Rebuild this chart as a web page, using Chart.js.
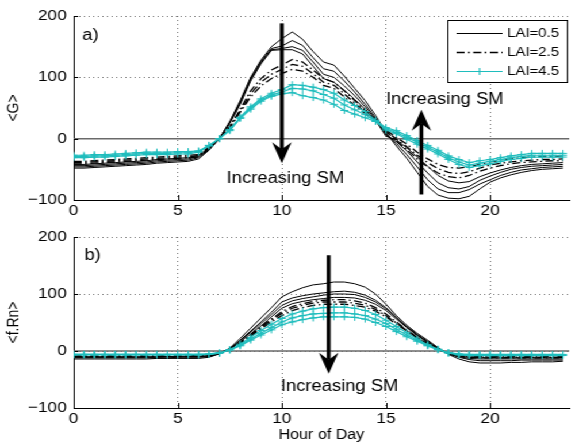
<!DOCTYPE html>
<html>
<head>
<meta charset="utf-8">
<script src="https://cdn.jsdelivr.net/npm/chart.js@4.4.1/dist/chart.umd.min.js"></script>
<style>
  body { margin: 0; background: #fff; }
  #wrap { position: absolute; left: 0; top: 0; width: 500px; height: 444px; transform: scaleX(1.15); transform-origin: 0 0; }
  canvas { position: absolute; left: 0; }
</style>
</head>
<body>
<div id="wrap">
  <canvas id="topChart" width="500" height="222" style="top:0"></canvas>
  <canvas id="bottomChart" width="500" height="222" style="top:222px"></canvas>
</div>
<script>
// half-hourly time axis
const hours = [0,0.5,1,1.5,2,2.5,3,3.5,4,4.5,5,5.5,6,6.5,7,7.5,8,8.5,9,9.5,10,10.5,11,11.5,
               12,12.5,13,13.5,14,14.5,15,15.5,16,16.5,17,17.5,18,18.5,19,19.5,20,20.5,21,21.5,22,22.5,23,23.5];
const xTicks = [0, 5, 10, 15, 20];
const yTicks = [-100, 0, 100, 200];
const legendLabels = ["LAI=0.5", "LAI=2.5", "LAI=4.5"];

// panel a) <G>, one row per soil moisture level
const gLai05 = [
  [-48,-48,-47,-46,-45,-44,-43,-42,-40,-39,-38,-37, -33,-19,0,28,62,100,128,150,163,174,162,142,
   125,120,102,82,62,38,10,-12,-32,-55,-78,-92, -97,-98,-94,-82,-71,-64,-59,-55,-52,-50,-49,-48],
  [-46,-46,-45,-44,-43,-42,-41,-40,-38,-37,-36,-35, -31,-18,0,27,60,98,126,147,151,160,152,132,
   114,110,94,76,56,34,8,-8,-26,-46,-67,-82, -88,-88,-83,-74,-67,-60,-55,-51,-49,-47,-46,-45],
  [-44,-44,-43,-42,-41,-40,-39,-38,-36,-35,-34,-33, -29,-17,0,26,58,96,124,145,147,150,144,125,
   105,100,86,70,52,32,6,-5,-20,-38,-56,-72, -80,-82,-78,-68,-61,-55,-50,-47,-45,-44,-43,-42],
  [-42,-42,-41,-40,-39,-38,-37,-36,-34,-33,-32,-31, -27,-15,0,25,56,94,122,144,145,145,138,118,
   98,92,79,64,48,30,4,-2,-15,-30,-45,-60, -69,-72,-70,-62,-56,-51,-47,-44,-42,-41,-40,-39]
];
const gLai25 = [
  [-41,-41,-40,-39,-38,-37,-36,-35,-34,-33,-32,-31, -30,-16,0,20,48,78,98,112,120,129,125,112,
   98,92,78,62,46,32,12,-4,-18,-33,-46,-56, -62,-64,-60,-53,-48,-44,-41,-39,-38,-37,-36,-36],
  [-39,-39,-38,-37,-36,-35,-34,-33,-32,-31,-30,-29, -28,-15,0,19,45,73,92,105,113,121,118,106,
   92,87,73,58,43,31,13,-1,-13,-27,-39,-49, -55,-57,-54,-48,-43,-40,-38,-36,-35,-34,-34,-33],
  [-37,-37,-36,-35,-34,-33,-32,-31,-30,-29,-28,-27, -26,-14,0,18,43,68,86,98,106,113,110,100,
   87,82,68,54,41,30,14,2,-9,-22,-33,-42, -47,-48,-46,-42,-38,-35,-33,-31,-30,-29,-29,-28]
];
const gLai45 = [
  [-27,-27,-26,-26,-25,-24,-23,-22,-22,-22,-21,-21, -20,-11,0,15,35,52,65,74,80,88,87,84,
   80,74,63,54,44,30,18,13,5,-3,-11,-19, -28,-34,-39,-36,-34,-31,-28,-26,-24,-24,-24,-24],
  [-29,-29,-28,-28,-27,-26,-25,-24,-24,-24,-23,-23, -21,-11,0,14,34,50,63,71,76,82,81,78,
   72,66,55,47,39,29,16,10,2,-6,-14,-22, -31,-38,-43,-40,-37,-34,-31,-29,-27,-27,-27,-27],
  [-31,-31,-30,-30,-29,-28,-27,-26,-26,-26,-25,-25, -22,-12,0,13,33,48,61,69,73,75,70,67,
   63,56,46,40,34,28,14,8,-1,-9,-17,-25, -34,-42,-47,-44,-41,-37,-34,-32,-30,-30,-30,-30]
];

// panel b) <f.Rn>
const rLai05 = [
  [-14,-14,-14,-14,-14,-14,-14,-14,-13,-13,-13,-13, -13,-11,-5,5,22,40,58,76,95,104,111,116,
   118,121,121,118,112,100,82,62,45,31,19,6, -6,-14,-19,-21,-21,-21,-20,-20,-19,-19,-19,-18],
  [-12,-12,-12,-12,-12,-12,-12,-12,-12,-12,-11,-11, -11,-10,-5,4,19,35,51,68,86,93,97,100,
   102,104,105,103,98,89,76,59,43,29,17,5, -5,-11,-15,-17,-17,-17,-17,-16,-16,-16,-16,-16],
  [-11,-11,-11,-11,-11,-11,-11,-11,-11,-10,-10,-10, -10,-9,-4,4,18,33,48,64,80,88,92,95,
   98,100,100,99,94,86,74,58,42,28,16,4, -4,-10,-13,-14,-14,-14,-14,-14,-14,-14,-14,-14],
  [-10,-10,-10,-10,-10,-10,-10,-10,-10,-10,-9,-9, -9,-8,-4,3,16,30,44,60,75,83,87,90,
   92,94,94,93,89,82,71,56,41,27,15,4, -4,-9,-11,-12,-12,-12,-12,-12,-12,-12,-12,-12]
];
const rLai25 = [
  [-10,-10,-10,-10,-10,-10,-10,-10,-10,-10,-10,-10, -10,-9,-4,3,15,29,43,56,69,78,83,87,
   89,90,90,88,84,76,65,51,37,24,13,3, -5,-9,-11,-12,-12,-12,-12,-12,-12,-12,-12,-12],
  [-9,-9,-9,-9,-9,-9,-9,-9,-9,-9,-9,-9, -9,-8,-4,3,14,27,41,54,66,75,80,84,
   86,86,86,84,80,73,62,49,36,23,12,3, -4,-8,-10,-11,-11,-11,-11,-11,-11,-11,-11,-11],
  [-9,-9,-9,-9,-9,-9,-9,-9,-9,-9,-9,-9, -8,-8,-4,3,13,26,39,51,62,71,76,80,
   82,82,82,80,77,70,60,47,35,23,12,3, -4,-7,-9,-10,-10,-10,-10,-10,-10,-10,-10,-10]
];
const rLai45 = [
  [-7,-7,-7,-7,-7,-7,-7,-7,-7,-7,-7,-7, -7,-6,-4,2,12,24,36,47,57,65,70,74,
   76,77,77,75,71,64,54,43,32,21,11,3, -4,-7,-8,-8,-8,-8,-8,-8,-8,-8,-8,-8],
  [-6,-6,-6,-6,-6,-6,-6,-6,-6,-6,-6,-6, -6,-6,-4,2,10,21,31,41,51,58,62,65,
   66,67,67,65,62,56,48,38,28,19,10,3, -3,-6,-7,-7,-7,-7,-7,-7,-7,-7,-7,-7],
  [-6,-6,-6,-6,-6,-6,-6,-6,-6,-6,-6,-6, -6,-5,-3,2,9,19,28,37,46,51,55,58,
   60,60,60,59,56,50,43,34,25,17,9,2, -3,-5,-6,-6,-6,-6,-6,-6,-6,-6,-6,-6]
];

const CYAN = "#1fbdbd";
const FONT = "'Liberation Sans', Arial, sans-serif";
const styles = [
  { borderColor: "#000", borderWidth: 1, borderDash: [], pointRadius: 0 },
  { borderColor: "#000", borderWidth: 1.3, borderDash: [7, 3, 1.5, 3], pointRadius: 0 },
  { borderColor: CYAN, borderWidth: 1.2, borderDash: [], pointRadius: 3.5, pointStyle: "cross",
    pointBorderColor: CYAN, pointBorderWidth: 1 }
];

function makeSets(groups) {
  const sets = [];
  // later groups first so the cyan lines end up on top
  for (let g = groups.length - 1; g >= 0; g--) {
    groups[g].forEach((s) => {
      sets.push(Object.assign({
        data: s.map((v, i) => ({ x: hours[i], y: v })),
        fill: false,
        tension: 0
      }, styles[g]));
    });
  }
  return sets;
}

function drawArrow(ctx, px, yFrom, yTip) {
  const d = Math.sign(yTip - yFrom);
  const len = 21, half = 8.5, notch = 7;
  ctx.strokeStyle = "#000";
  ctx.fillStyle = "#000";
  ctx.lineWidth = 3.4;
  ctx.beginPath();
  ctx.moveTo(px, yFrom);
  ctx.lineTo(px, yTip - d * (len - notch));
  ctx.stroke();
  ctx.beginPath();
  ctx.moveTo(px, yTip);
  ctx.lineTo(px - half, yTip - d * len);
  ctx.lineTo(px, yTip - d * (len - notch));
  ctx.lineTo(px + half, yTip - d * len);
  ctx.closePath();
  ctx.fill();
}

function drawLegend(ctx, box) {
  ctx.save();
  ctx.fillStyle = "#fff";
  ctx.fillRect(box.left, box.top, box.width, box.height);
  ctx.strokeStyle = "#000";
  ctx.lineWidth = 1;
  ctx.strokeRect(box.left + 0.5, box.top + 0.5, box.width, box.height);
  ctx.font = "13px " + FONT;
  ctx.textBaseline = "middle";
  ctx.textAlign = "left";
  legendLabels.forEach((lab, i) => {
    const st = styles[i];
    const yy = box.top + 13.5 + i * 19;
    const x1 = box.left + 8, x2 = box.left + 48;
    ctx.strokeStyle = st.borderColor;
    ctx.lineWidth = st.borderWidth;
    ctx.setLineDash(st.borderDash);
    ctx.beginPath();
    ctx.moveTo(x1, yy);
    ctx.lineTo(x2, yy);
    ctx.stroke();
    ctx.setLineDash([]);
    if (st.pointRadius) {
      const cx = (x1 + x2) / 2, r = st.pointRadius;
      ctx.beginPath();
      ctx.moveTo(cx, yy - r); ctx.lineTo(cx, yy + r);
      ctx.moveTo(cx - r, yy); ctx.lineTo(cx + r, yy);
      ctx.stroke();
    }
    ctx.fillStyle = "#000";
    ctx.fillText(lab, box.left + 52, yy);
  });
  ctx.restore();
}

const decor = {
  id: "decor",
  beforeDatasetsDraw(chart) {
    const { ctx, chartArea: a } = chart;
    const x = chart.scales.x, y = chart.scales.y;
    ctx.save();
    const y0 = y.getPixelForValue(0);
    ctx.strokeStyle = "#6a6a6a";
    ctx.lineWidth = 1.5;
    ctx.beginPath();
    ctx.moveTo(a.left, y0);
    ctx.lineTo(a.right, y0);
    ctx.stroke();
    // small inside tick marks
    ctx.strokeStyle = "#000";
    ctx.lineWidth = 1;
    ctx.beginPath();
    xTicks.forEach((v) => {
      const px = Math.round(x.getPixelForValue(v)) + 0.5;
      ctx.moveTo(px, a.bottom);
      ctx.lineTo(px, a.bottom - 5);
    });
    yTicks.forEach((v) => {
      const py = Math.round(y.getPixelForValue(v)) + 0.5;
      ctx.moveTo(a.left, py);
      ctx.lineTo(a.left + 4, py);
    });
    ctx.stroke();
    ctx.restore();
  },
  afterDatasetsDraw(chart, args, o) {
    const { ctx } = chart;
    const x = chart.scales.x, y = chart.scales.y;
    ctx.save();
    ctx.fillStyle = "#000";
    ctx.font = "16px " + FONT;
    ctx.textBaseline = "middle";
    ctx.textAlign = "left";
    ctx.fillText(o.tag, x.getPixelForValue(o.tagAt[0]), y.getPixelForValue(o.tagAt[1]));
    o.notes.forEach((n) => {
      ctx.fillStyle = "#000";
      ctx.fillText(n.text, x.getPixelForValue(n.at[0]), y.getPixelForValue(n.at[1]));
    });
    o.arrows.forEach((ar) => {
      drawArrow(ctx, x.getPixelForValue(ar.x), y.getPixelForValue(ar.from), y.getPixelForValue(ar.to));
    });
    ctx.restore();
  },
  afterDraw(chart, args, o) {
    if (o.legend) drawLegend(chart.ctx, o.legend);
  }
};

function panelOptions(cfg) {
  return {
    responsive: false,
    animation: false,
    devicePixelRatio: 1,
    layout: { padding: { top: cfg.padTop, right: 1, left: 0, bottom: 0 } },
    plugins: {
      legend: { display: false },
      tooltip: { enabled: false },
      decor: cfg.decor
    },
    scales: {
      x: {
        type: "linear",
        min: 0,
        max: 23.8,
        afterBuildTicks: (s) => { s.ticks = xTicks.map((v) => ({ value: v })); },
        afterFit: (s) => { s.height = cfg.xHeight; },
        grid: { color: "rgba(0,0,0,0.55)", lineWidth: 1, drawTicks: false },
        border: { display: true, color: "#000", width: 1, dash: [1, 3] },
        ticks: { padding: 2, color: "#000", maxRotation: 0, font: { family: FONT, size: 15 } },
        title: {
          display: !!cfg.xTitle,
          text: cfg.xTitle,
          color: "#000",
          font: { family: FONT, size: 14 },
          padding: { top: 0, bottom: 0 }
        }
      },
      y: {
        type: "linear",
        min: -100,
        max: 200,
        afterBuildTicks: (s) => { s.ticks = yTicks.map((v) => ({ value: v })); },
        afterFit: (s) => { s.width = 64; },
        grid: { color: "rgba(0,0,0,0.55)", lineWidth: 1, drawTicks: false },
        border: { display: true, color: "#000", width: 1, dash: [1, 3] },
        ticks: {
          padding: 6,
          color: "#000",
          font: { family: FONT, size: 15 },
          callback: (v) => (v < 0 ? "\u2212" + Math.abs(v) : String(v))
        },
        title: {
          display: true,
          text: cfg.yTitle,
          color: "#000",
          font: { family: FONT, size: 14 },
          padding: { top: 4, bottom: 0 }
        }
      }
    }
  };
}

new Chart(document.getElementById("topChart"), {
  type: "line",
  data: { datasets: makeSets([gLai05, gLai25, gLai45]) },
  options: panelOptions({
    padTop: 16,
    xHeight: 22,
    yTitle: "<G>",
    decor: {
      tag: "a)",
      tagAt: [0.42, 168],
      notes: [
        { text: "Increasing SM", at: [7.35, -65] },
        { text: "Increasing SM", at: [15.0, 63] }
      ],
      arrows: [
        { x: 10, from: 188, to: -40 },
        { x: 16.7, from: -91, to: 47 }
      ],
      legend: { left: 389, top: 20, width: 104, height: 62 }
    }
  }),
  plugins: [decor]
});

new Chart(document.getElementById("bottomChart"), {
  type: "line",
  data: { datasets: makeSets([rLai05, rLai25, rLai45]) },
  options: panelOptions({
    padTop: 12,
    xHeight: 36,
    yTitle: "<f.Rn>",
    xTitle: "Hour of Day",
    decor: {
      tag: "b)",
      tagAt: [0.52, 167],
      notes: [{ text: "Increasing SM", at: [9.95, -63] }],
      arrows: [{ x: 12.25, from: 168, to: -40 }],
      legend: null
    }
  }),
  plugins: [decor]
});
</script>
</body>
</html>
